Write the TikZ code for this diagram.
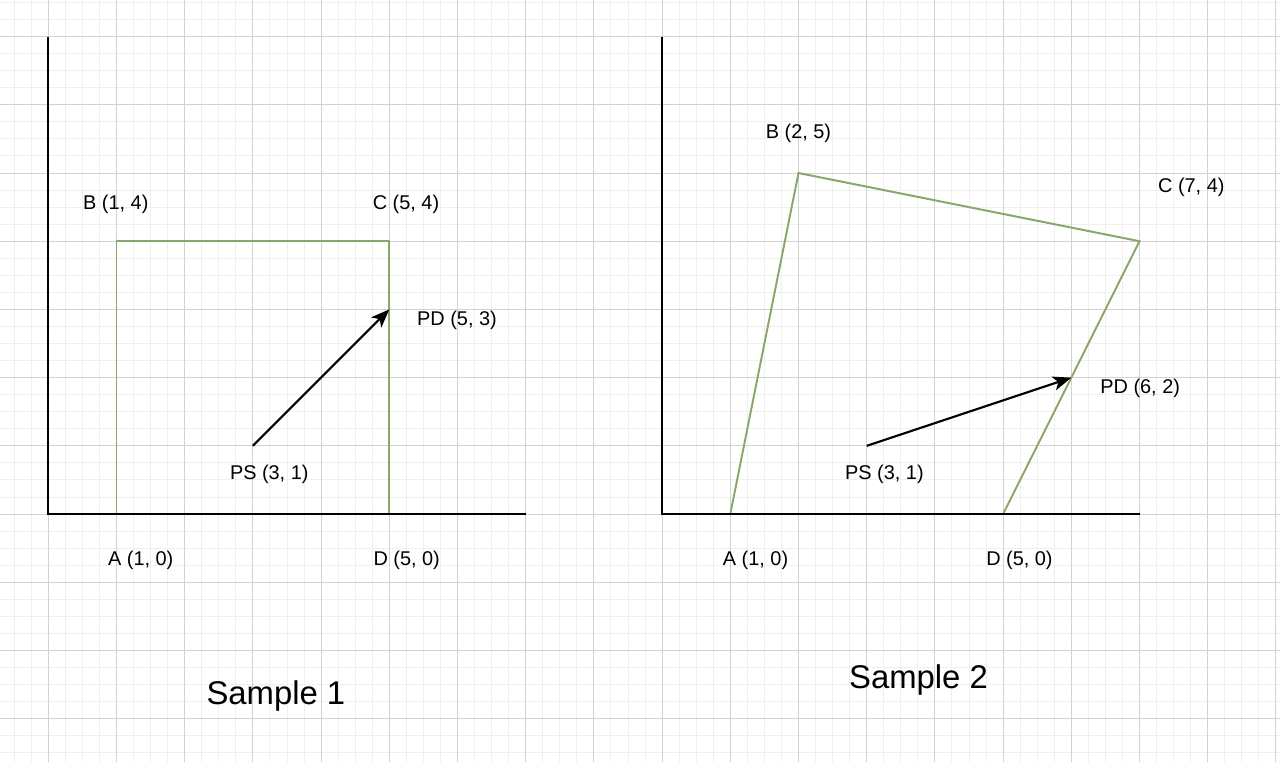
\documentclass[tikz,border=0pt]{standalone}
\usepackage{fontspec}
\setmainfont{Liberation Sans}
\usetikzlibrary{arrows.meta}
\definecolor{gridminor}{HTML}{EFEFEF}
\definecolor{gridmajor}{HTML}{D2D2D2}
\definecolor{shapegreen}{HTML}{8BA66C}
\tikzset{
  lbl/.style={anchor=base, inner sep=0pt, font=\fontsize{8.3pt}{10pt}\selectfont},
  title/.style={anchor=base, inner sep=0pt, font=\fontsize{13.7pt}{16pt}\selectfont},
  axis/.style={black, line width=0.8pt},
  shp/.style={shapegreen, line width=0.8pt},
  vec/.style={black, line width=0.9pt, -{Stealth[length=0.27cm, width=0.21cm, inset=0.07cm]}}
}
\begin{document}
\begin{tikzpicture}
\useasboundingbox (-0.708,-3.622) rectangle (18.06,7.537);
\fill[white] (-0.708,-3.622) rectangle (18.06,7.537);
\begin{scope}
\clip (-0.708,-3.622) rectangle (18.06,7.537);
\draw[gridminor, line width=0.4pt] (-1,-4) grid[step=0.25] (19,8);
\draw[gridmajor, line width=0.4pt] (-1,-4) grid[step=1] (19,8);
\end{scope}

% Sample 1
\coordinate (O1) at (0,0);
\coordinate (Y1) at (0,7);
\coordinate (X1) at (7,0);
\coordinate (A1) at (1,0);
\coordinate (B1) at (1,4);
\coordinate (C1) at (5,4);
\coordinate (D1) at (5,0);
\coordinate (PS1) at (3,1);
\coordinate (PD1) at (5,3);
\draw[shp] (A1) -- (B1) -- (C1) -- (D1);
\draw[axis] (Y1) -- (O1) -- (X1);
\draw[vec] (PS1) -- (PD1);
\node[lbl] (lB1) at (0.99,4.46) {B (1, 4)};
\node[lbl] (lC1) at (5.245,4.46) {C (5, 4)};
\node[lbl] (lPD1) at (5.993,2.77) {PD (5, 3)};
\node[lbl] (lPS1) at (3.24,0.513) {PS (3, 1)};
\node[lbl] (lA1) at (1.356,-0.748) {A (1, 0)};
\node[lbl] (lD1) at (5.255,-0.748) {D (5, 0)};
\node[title] (t1) at (3.337,-2.80) {Sample 1};

% Sample 2
\begin{scope}[shift={(9,0)}]
\coordinate (O2) at (0,0);
\coordinate (Y2) at (0,7);
\coordinate (X2) at (7,0);
\coordinate (A2) at (1,0);
\coordinate (B2) at (2,5);
\coordinate (C2) at (7,4);
\coordinate (D2) at (5,0);
\coordinate (PS2) at (3,1);
\coordinate (PD2) at (6,2);
\end{scope}
\draw[shp] (A2) -- (B2) -- (C2) -- (D2);
\draw[axis] (Y2) -- (O2) -- (X2);
\draw[vec] (PS2) -- (PD2);
\node[lbl] (lB2) at (11.0,5.51) {B (2, 5)};
\node[lbl] (lC2) at (16.76,4.72) {C (7, 4)};
\node[lbl] (lPD2) at (16.01,1.77) {PD (6, 2)};
\node[lbl] (lPS2) at (12.26,0.51) {PS (3, 1)};
\node[lbl] (lA2) at (10.37,-0.748) {A (1, 0)};
\node[lbl] (lD2) at (14.24,-0.748) {D (5, 0)};
\node[title] (t2) at (12.76,-2.556) {Sample 2};
\end{tikzpicture}
\end{document}
